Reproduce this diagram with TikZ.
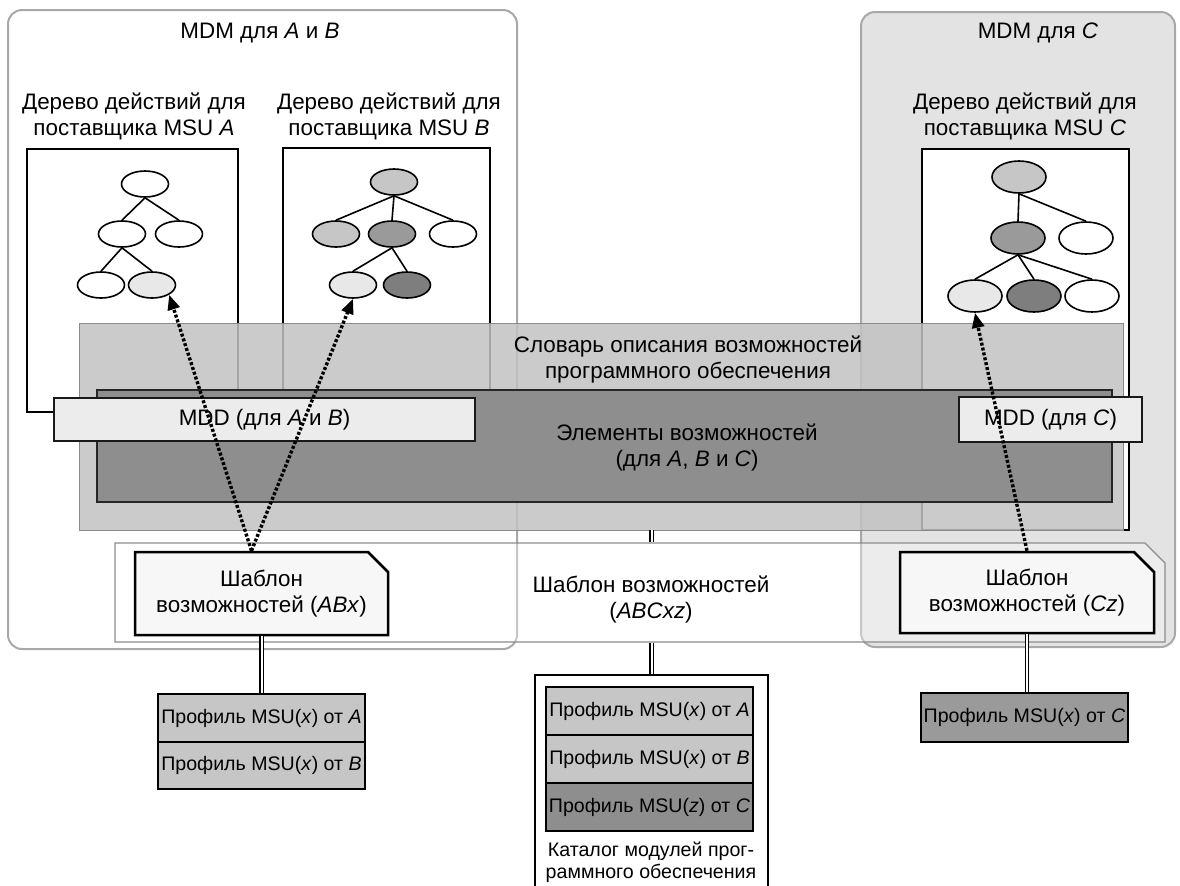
\documentclass[tikz,border=0pt]{standalone}
\usepackage{fontspec}
\setmainfont{Liberation Sans}
\usetikzlibrary{shapes.geometric,shapes.misc,arrows.meta,fit}

\definecolor{framegray}{HTML}{A8A8A8}
\definecolor{mdmfill}{HTML}{E3E3E3}
\definecolor{dictfill}{HTML}{C2C2C2}
\definecolor{dictedge}{HTML}{8A8A8A}
\definecolor{elemfill}{HTML}{8E8E8E}
\definecolor{mddfill}{HTML}{ECECEC}
\definecolor{lightleaf}{HTML}{C6C6C6}
\definecolor{midleaf}{HTML}{9A9A9A}
\definecolor{darkleaf}{HTML}{7E7E7E}
\definecolor{paleleaf}{HTML}{E8E8E8}
\definecolor{proflight}{HTML}{C6C6C6}
\definecolor{profdark}{HTML}{8E8E8E}

\newcommand{\maintext}{\fontsize{11.2}{13}\selectfont}
\newcommand{\proftext}{\fontsize{9.8}{11}\selectfont}

\tikzset{
  mdmbox/.style={draw=framegray, line width=1pt, rounded corners=7pt, inner sep=0pt},
  treebox/.style={draw, line width=1pt, fill=white, inner sep=0pt},
  leaf/.style={ellipse, draw, thick, fill=white, minimum width=23.5pt, minimum height=13pt, inner sep=0pt},
  bigleaf/.style={leaf, minimum width=27pt, minimum height=16pt},
  dictbox/.style={draw=dictedge, fill=dictfill, fill opacity=0.85, inner sep=0pt},
  elembox/.style={draw=black!85, line width=1pt, fill=elemfill, inner sep=0pt},
  mddbox/.style={draw=black!90, line width=1.25pt, fill=mddfill, inner sep=0pt},
  tplbox/.style={chamfered rectangle, chamfered rectangle corners=north east,
    chamfered rectangle sep=5pt, draw, line width=1.25pt, fill=white!97!black, inner sep=0pt},
  widebox/.style={chamfered rectangle, chamfered rectangle corners=north east,
    chamfered rectangle sep=5pt, draw=black!45, line width=0.6pt, fill=white,
    fill opacity=0.35, inner sep=0pt},
  profbox/.style={draw, line width=0.8pt, inner sep=0pt},
  title/.style={align=center, font=\maintext, inner sep=0pt},
  proflabel/.style={align=center, font=\proftext, inner sep=0pt},
  link/.style={double=white, double distance=1pt, line width=0.7pt},
  dotarrow/.style={line width=1.7pt, dash pattern=on 1.5pt off 1pt,
    -{Triangle[length=7.5pt,width=6pt]}}
}

\begin{document}
\begin{tikzpicture}[x=0.5pt,y=-0.5pt]
\useasboundingbox (0,0) rectangle (1180,885);

% MDM areas
\node[mdmbox, fill=white, fit={(8,10) (517,649)}] (mdmab) {};
\node[mdmbox, fill=mdmfill, fit={(861,12) (1175,647)}] (mdmc) {};
\node[title] (mdmabtitle) at (260,33) {MDM для \textit{A} и \textit{B}};
\node[title] (mdmctitle) at (1038,33) {MDM для \textit{C}};

% action trees
\node[title] (treeatitle) at (134,116) {Дерево действий для\\поставщика MSU \textit{A}};
\node[title] (treebtitle) at (389,116) {Дерево действий для\\поставщика MSU \textit{B}};
\node[title] (treectitle) at (1025,116) {Дерево действий для\\поставщика MSU \textit{C}};
\node[treebox, fit={(27,149) (238,412)}] (treea) {};
\node[treebox, fit={(283,148) (490,412)}] (treeb) {};
\node[treebox, fit={(922,149) (1129,530)}] (treec) {};

\node[leaf] (a1) at (145,184) {};
\node[leaf] (a2) at (122,234) {};
\node[leaf] (a3) at (179,234) {};
\node[leaf] (a4) at (101,285) {};
\node[leaf, fill=paleleaf] (a5) at (152,285) {};
\draw[thick] (a1.south) -- (a2.north);
\draw[thick] (a1.south) -- (a3.north);
\draw[thick] (a2.south) -- (a4.north);
\draw[thick] (a2.south) -- (a5.north);

\node[leaf, fill=lightleaf] (b1) at (394,182) {};
\node[leaf, fill=lightleaf] (b2) at (336,234) {};
\node[leaf, fill=midleaf] (b3) at (392,234) {};
\node[leaf] (b4) at (453,234) {};
\node[leaf, fill=paleleaf] (b5) at (353,285) {};
\node[leaf, fill=darkleaf] (b6) at (407,285) {};
\draw[thick] (b1.south) -- (b2.north);
\draw[thick] (b1.south) -- (b3.north);
\draw[thick] (b1.south) -- (b4.north);
\draw[thick] (b3.south) -- (b5.north);
\draw[thick] (b3.south) -- (b6.north);

\node[bigleaf, fill=lightleaf] (c1) at (1019,177) {};
\node[bigleaf, fill=midleaf] (c2) at (1018,238) {};
\node[bigleaf] (c3) at (1086,238) {};
\node[bigleaf, fill=paleleaf] (c4) at (975,296) {};
\node[bigleaf, fill=darkleaf] (c5) at (1034,296) {};
\node[bigleaf] (c6) at (1092,296) {};
\draw[thick] (c1.south) -- (c2.north);
\draw[thick] (c1.south) -- (c3.north);
\draw[thick] (c2.south) -- (c4.north);
\draw[thick] (c2.south) -- (c5.north);
\draw[thick] (c2.south) -- (c6.north);

% dictionary and elements
\node[dictbox, fit={(79,323) (1123,530)}] (dict) {};
\node[title] (dicttext) at (688,360) {Словарь описания возможностей\\программного обеспечения};
\node[elembox, fit={(97,390) (1112,502)}] (elem) {};
\node[title] (elemtext) at (687,447) {Элементы возможностей\\(для \textit{A}, \textit{B} и \textit{C})};
\node[mddbox, fit={(54,398) (475,441)}] (mddab) {};
\node[title] (mddabtext) at (mddab) {MDD (для \textit{A} и \textit{B})};
\node[mddbox, fit={(959,397) (1142,442)}] (mddc) {};
\node[title] (mddctext) at (mddc) {MDD (для \textit{C})};

% capability templates
\node[widebox, fit={(125,553) (1155,632)}] (wide) {};
\node[title] (widetext) at (651,599) {Шаблон возможностей\\(\textit{ABCxz})};
\node[tplbox, fit={(145,562) (378,625)}] (abx) {};
\node[title] (abxtext) at (abx) {Шаблон\\возможностей (\textit{ABx})};
\node[tplbox, fit={(910,562) (1144,623)}] (cz) {};
\node[title] (cztext) at (cz) {Шаблон\\возможностей (\textit{Cz})};

% MSU profiles
\node[profbox, fill=proflight, fit={(158,694) (365,742)}] (profa) {};
\node[proflabel] at (profa) {Профиль MSU(\textit{x}) от \textit{A}};
\node[profbox, fill=proflight, fit={(158,742) (365,789)}] (profb) {};
\node[proflabel] at (profb) {Профиль MSU(\textit{x}) от \textit{B}};
\node[profbox, fill=midleaf, fit={(921,693) (1128,742)}] (profc) {};
\node[proflabel] at (profc) {Профиль MSU(\textit{x}) от \textit{C}};

% catalog
\node[draw, line width=0.8pt, inner sep=0pt, fit={(535,675) (768,900)}] (cat) {};
\node[profbox, fill=proflight, fit={(546,687) (753,735)}] (cata) {};
\node[proflabel] at (cata) {Профиль MSU(\textit{x}) от \textit{A}};
\node[profbox, fill=proflight, fit={(546,735) (753,783)}] (catb) {};
\node[proflabel] at (catb) {Профиль MSU(\textit{x}) от \textit{B}};
\node[profbox, fill=profdark, fit={(546,783) (753,831)}] (catc) {};
\node[proflabel] at (catc) {Профиль MSU(\textit{z}) от \textit{C}};
\node[proflabel] (cattext) at (651,862) {Каталог модулей прог-\\раммного обеспечения};

% links
\draw[link] (dict.south -| cat.north) -- (wide.north -| cat.north);
\draw[link] (wide.south -| cat.north) -- (cat.north);
\draw[link] (abx.south) -- (profa.north);
\draw[link] (cz.south) -- (cz.south |- profc.north);

% references into the trees
\draw[dotarrow] ([xshift=-5pt]abx.north) -- (a5.south east);
\draw[dotarrow] ([xshift=-5pt]abx.north) -- (b5.south);
\draw[dotarrow] (cz.north) -- (c4.south);
\end{tikzpicture}
\end{document}
